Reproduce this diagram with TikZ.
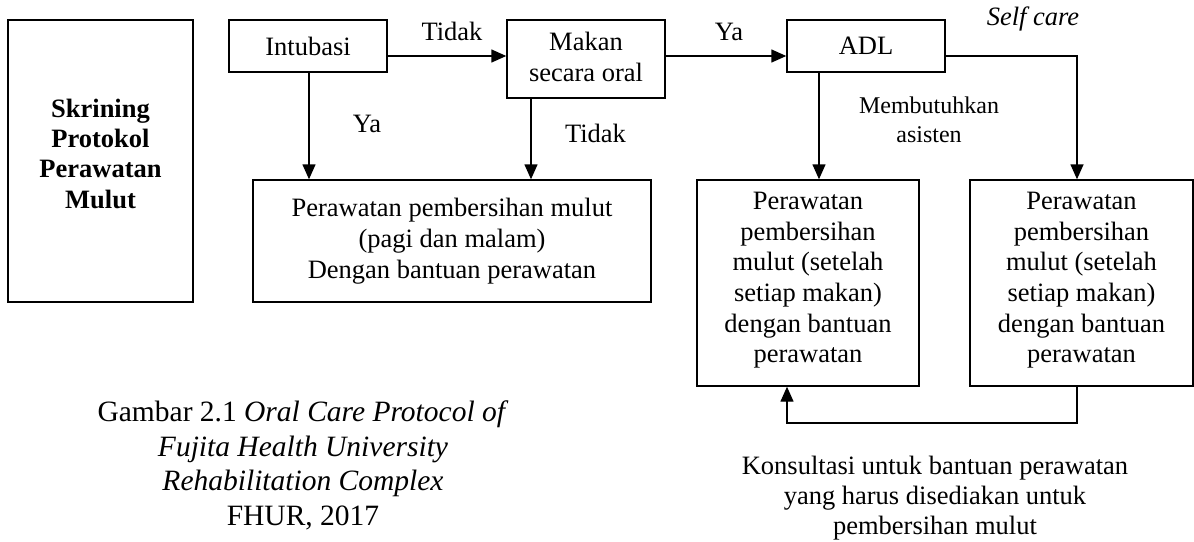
\documentclass[tikz,border=0pt]{standalone}
\usepackage{fontspec}
\setmainfont{Liberation Serif}
\usetikzlibrary{arrows.meta}
\begin{document}
\begin{tikzpicture}[x=1pt,y=-1pt,
  box/.style={draw, line width=1.4pt, inner sep=0pt, align=center, font=\fontsize{26.5}{31}\selectfont},
  lbl/.style={inner sep=0pt, anchor=base, font=\fontsize{26.5}{31}\selectfont},
  txt/.style={inner sep=0pt, align=center},
  arr/.style={line width=1.4pt, -{Triangle[length=15pt,width=13pt]}}]
\useasboundingbox (0,0) rectangle (1194,541);
% boxes
\node[box, minimum width=185pt, minimum height=282pt, font=\bfseries\fontsize{26.5}{30.3}\selectfont] (skr) at (100.5,161) {Skrining\\Protokol\\Perawatan\\Mulut\rule[-15pt]{0pt}{15pt}};
\node[box, minimum width=158pt, minimum height=52pt] (int) at (308,46) {Intubasi};
\node[box, minimum width=158pt, minimum height=78pt] (mak) at (586,59) {Makan\\secara oral\rule[-5pt]{0pt}{5pt}};
\node[box, minimum width=158pt, minimum height=52pt] (adl) at (866,46) {ADL};
\node[box, minimum width=398pt, minimum height=122pt] (big) at (452,241) {Perawatan pembersihan mulut\\(pagi dan malam)\\Dengan bantuan perawatan};
\node[box, minimum width=222pt, minimum height=206pt, font=\fontsize{26.5}{30.6}\selectfont] (lb) at (808,283) {Perawatan\\pembersihan\\mulut (setelah\\setiap makan)\\dengan bantuan\\perawatan\rule[-11pt]{0pt}{11pt}};
\node[box, minimum width=223pt, minimum height=206pt, font=\fontsize{26.5}{30.6}\selectfont] (rb) at (1081.5,283) {Perawatan\\pembersihan\\mulut (setelah\\setiap makan)\\dengan bantuan\\perawatan\rule[-11pt]{0pt}{11pt}};
% helper coordinates
\coordinate (ya) at (0,56);
\coordinate (xi) at (309,0);
\coordinate (xm) at (531,0);
\coordinate (xa) at (819,0);
\coordinate (xr) at (1077,0);
\coordinate (fb) at (787,423);
% connectors
\draw[arr] (int.east |- ya) -- (mak.west |- ya);
\draw[arr] (mak.east |- ya) -- (adl.west |- ya);
\draw[arr] (int.south -| xi) -- (big.north -| xi);
\draw[arr] (mak.south -| xm) -- (big.north -| xm);
\draw[arr] (adl.south -| xa) -- (lb.north -| xa);
\draw[arr] (adl.east |- ya) -| (rb.north -| xr);
\draw[arr] (rb.south -| xr) |- (fb) -- (lb.south -| fb);
% labels
\node[lbl] (t1) at (452,40) {Tidak};
\node[lbl] (y1) at (367,132) {Ya};
\node[lbl] (t2) at (595.5,142) {Tidak};
\node[lbl] (y2) at (729,40) {Ya};
\node[lbl, font=\itshape\fontsize{26.5}{31}\selectfont] (sc) at (1033,25) {Self care};
\node[txt, font=\fontsize{24}{29}\selectfont] (mb) at (929,119.3) {Membutuhkan\\asisten};
\node[txt, font=\fontsize{26.5}{30}\selectfont] (kon) at (935,497.8) {Konsultasi untuk bantuan perawatan\\yang harus disediakan untuk\\pembersihan mulut};
\node[txt, font=\fontsize{29.5}{34.4}\selectfont] (cap) at (303,465.4) {Gambar 2.1 \textit{Oral Care Protocol of}\\\textit{Fujita Health University}\\\textit{Rehabilitation Complex}\\FHUR, 2017};
\end{tikzpicture}
\end{document}
